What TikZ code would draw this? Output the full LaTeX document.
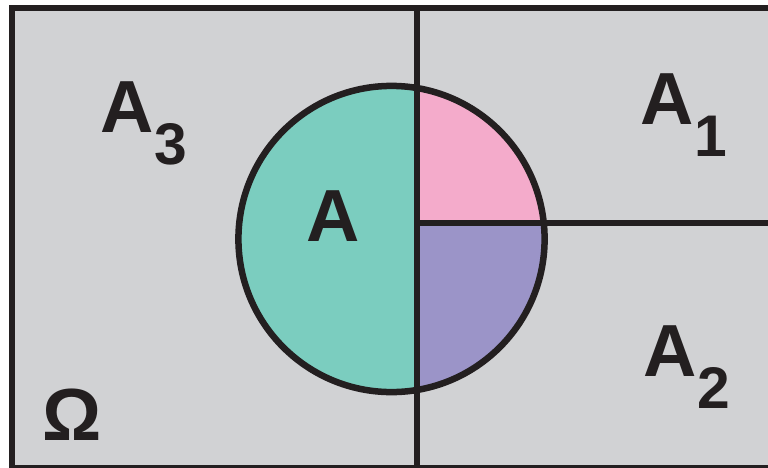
\documentclass[tikz,border=0pt]{standalone}
\usepackage{fontspec}
\setmainfont{Liberation Sans}
\usepackage{xcolor}

\definecolor{omegagray}{HTML}{D1D2D4}
\definecolor{inkblack}{HTML}{231F20}
\definecolor{parta}{HTML}{7BCDBF}
\definecolor{partone}{HTML}{F4ABCB}
\definecolor{parttwo}{HTML}{9B94C8}

\newcommand{\setlabel}[2]{#1\raisebox{-9.2pt}{\fontsize{16.7}{17}\selectfont #2}}

\begin{document}
\begin{tikzpicture}[x=0.01cm, y=-0.01cm,
          wall/.style={draw=inkblack, line width=0.065cm},
          lbl/.style={inner sep=0pt, anchor=base west, text=inkblack,
                      font=\fontsize{21}{21}\selectfont\bfseries}
        ]
          \useasboundingbox (0,0) rectangle (768,467);

          % sample space
          \fill[omegagray] (12,8) rectangle (790,468);

          % event A, split by the partition
          \coordinate (c) at (391.5,239);
          \coordinate (split) at (417,223);
          \fill[parta] (c) circle (1.53cm);
          \begin{scope}
            \clip (split) rectangle (790,0);
            \fill[partone] (c) circle (1.53cm);
          \end{scope}
          \begin{scope}
            \clip (split) rectangle (790,470);
            \fill[parttwo] (c) circle (1.53cm);
          \end{scope}
          \draw[wall] (c) circle (1.53cm);

          % partition lines
          \coordinate (top) at (417,8);
          \coordinate (bottom) at (417,468);
          \coordinate (right) at (790,223);
          \draw[wall] (top) -- (bottom);
          \draw[wall] (split) -- (right);
          \draw[wall] (790,8) -- (12,8) -- (12,468) -- (790,468);

          % labels
          \node[lbl] (a3) at (100,132) {\setlabel{A}{3}};
          \node[lbl] (a1) at (640,124) {\setlabel{A}{1}};
          \node[lbl] (a2) at (643,376) {\setlabel{A}{2}};
          \node[lbl] (a) at (306,241) {A};
          \node[lbl] (omega) at (42,440) {Ω};
        \end{tikzpicture}
\end{document}
